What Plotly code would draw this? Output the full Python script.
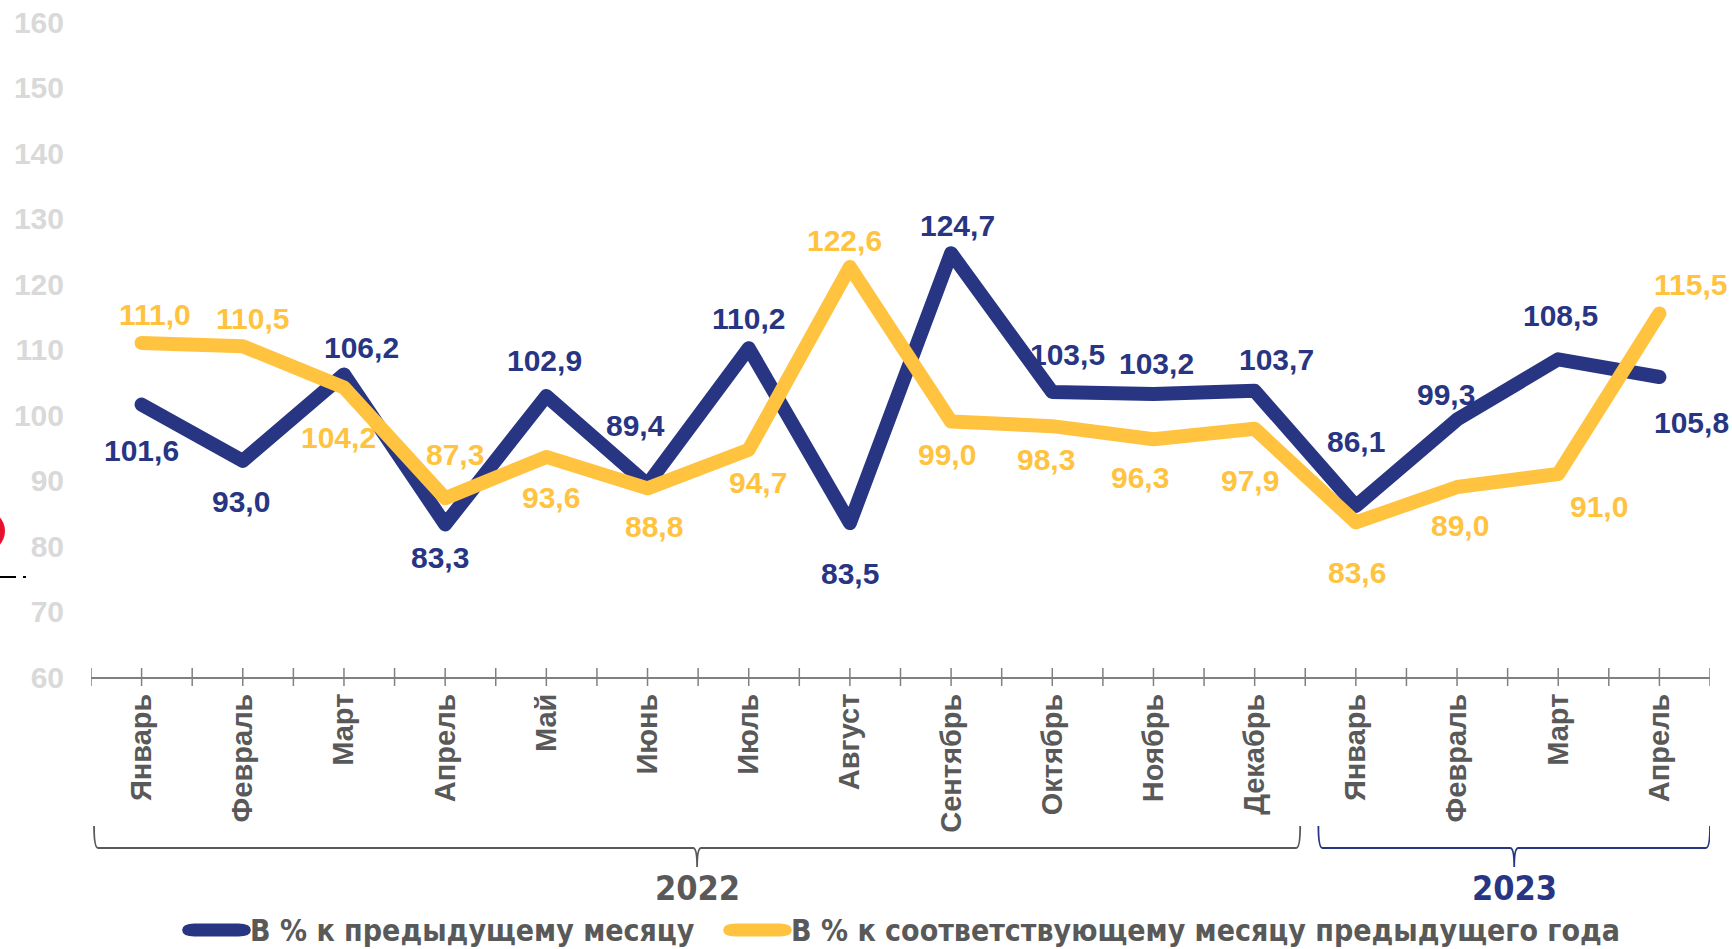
import plotly.graph_objects as go

months = ["Январь", "Февраль", "Март", "Апрель", "Май", "Июнь", "Июль", "Август",
          "Сентябрь", "Октябрь", "Ноябрь", "Декабрь",
          "Январь", "Февраль", "Март", "Апрель"]
mom = [101.6, 93.0, 106.2, 83.3, 102.9, 89.4, 110.2, 83.5, 124.7, 103.5, 103.2, 103.7,
       86.1, 99.3, 108.5, 105.8]
yoy = [111.0, 110.5, 104.2, 87.3, 93.6, 88.8, 94.7, 122.6, 99.0, 98.3, 96.3, 97.9,
       83.6, 89.0, 91.0, 115.5]
series_names = ["В % к предыдущему месяцу", "В % к соответствующему месяцу предыдущего года"]
years = ["2022", "2023"]
year_counts = [12, 4]
y_ticks = [60, 70, 80, 90, 100, 110, 120, 130, 140, 150, 160]

# label offsets in pixels (style only)
mom_dx = [0, -2, 18, -5, -2, -12, 0, 0, 6, 15, 3, 22, 0, -11, 2, 32]
mom_dy = [46, 41, -27, 33, -36, -59, -30, 50, -28, -38, -31, -31, -65, -25, -44, 45]
yoy_dx = [13, 10, -5, 10, 5, 6, 9, -5, -4, -6, -13, -5, 1, 3, 41, 31]
yoy_dy = [-28, -28, 50, -44, 41, 38, 33, -26, 33, 33, 38, 52, 50, 38, 33, -29]

NAVY = "#283583"
GOLD = "#FFC33F"
GREY = "#595959"
ARIAL = "Liberation Sans, Arial, sans-serif"
NARROW = "Liberation Sans Narrow, Arial Narrow, DejaVu Sans Condensed, sans-serif"

W, H = 1732, 949
ML, MR, MT, MB = 91, 22, 22, 272
PW, PH = W - ML - MR, H - MT - MB

def px(xp):
    return (xp - ML) / PW

def py(yp):
    return (H - MB - yp) / PH

x = list(range(len(months)))
fig = go.Figure()
fig.add_trace(go.Scatter(x=x, y=mom, mode="lines", name=series_names[0],
                         line=dict(color=NAVY, width=14), showlegend=False,
                         hoverinfo="skip"))
fig.add_trace(go.Scatter(x=x, y=yoy, mode="lines", name=series_names[1],
                         line=dict(color=GOLD, width=14), showlegend=False,
                         hoverinfo="skip"))

ann = []
for i, v in enumerate(mom):
    ann.append(dict(x=i, y=v, xref="x", yref="y", text=f"{v:.1f}".replace(".", ","),
                    showarrow=False, xshift=mom_dx[i], yshift=-mom_dy[i],
                    xanchor="center", yanchor="middle",
                    font=dict(family=ARIAL, size=30, color=NAVY, weight="bold")))
for i, v in enumerate(yoy):
    ann.append(dict(x=i, y=v, xref="x", yref="y", text=f"{v:.1f}".replace(".", ","),
                    showarrow=False, xshift=yoy_dx[i], yshift=-yoy_dy[i],
                    xanchor="center", yanchor="middle",
                    font=dict(family=ARIAL, size=30, color=GOLD, weight="bold")))

shapes = []
# crossing ticks on the category axis
for k in range(2 * len(months) + 1):
    xv = -0.5 + k * 0.5
    shapes.append(dict(type="line", xref="x", yref="paper", x0=xv, x1=xv,
                       y0=py(668), y1=py(686), line=dict(color="#808080", width=1.5)))

# year brackets
start = 0
bracket_cols = [GREY, NAVY]
for j, (yr, n) in enumerate(zip(years, year_counts)):
    x0 = start - 0.5 + (0.03 if j == 0 else 0.13)
    x1 = start + n - 0.5 - (0.05 if j == 0 else 0.0)
    xc = (x0 + x1) / 2
    col = bracket_cols[j]
    yt, yb, ys = py(826), py(848), py(867)
    path = (f"M {x0},{yt} Q {x0},{yb} {x0+0.04},{yb} L {xc-0.04},{yb} "
            f"Q {xc},{yb} {xc},{ys} Q {xc},{yb} {xc+0.04},{yb} L {x1-0.04},{yb} "
            f"Q {x1},{yb} {x1},{yt}")
    shapes.append(dict(type="path", xref="x", yref="paper", path=path,
                       line=dict(color=col, width=1.8)))
    ann.append(dict(x=xc, y=py(888), xref="x", yref="paper", text=yr, showarrow=False,
                    xanchor="center", yanchor="middle",
                    font=dict(family=NARROW, size=34, color=col, weight="bold")))
    start += n

# manual legend: rounded line samples + texts
leg_cols = [NAVY, GOLD]
leg_x = [(188, 245), (729, 786)]
leg_y, r = 930, 6.5
for (a, b), col, name in zip(leg_x, leg_cols, series_names):
    path = (f"M {px(a + r)},{py(leg_y - r)} L {px(b - r)},{py(leg_y - r)} "
            f"Q {px(b + r * 0.9)},{py(leg_y - r)} {px(b + r * 0.9)},{py(leg_y)} "
            f"Q {px(b + r * 0.9)},{py(leg_y + r)} {px(b - r)},{py(leg_y + r)} "
            f"L {px(a + r)},{py(leg_y + r)} "
            f"Q {px(a - r * 0.9)},{py(leg_y + r)} {px(a - r * 0.9)},{py(leg_y)} "
            f"Q {px(a - r * 0.9)},{py(leg_y - r)} {px(a + r)},{py(leg_y - r)} Z")
    shapes.append(dict(type="path", xref="paper", yref="paper", path=path,
                       fillcolor=col, line=dict(width=0)))
    ann.append(dict(x=px(b + 3), y=py(leg_y), xref="paper", yref="paper", text=name,
                    xanchor="left", yanchor="middle", showarrow=False,
                    font=dict(family=NARROW, size=30, color=GREY, weight="bold")))

# stray slide fragments at the left edge
shapes.append(dict(type="circle", xref="paper", yref="paper",
                   x0=px(-38), x1=px(5), y0=py(552), y1=py(510),
                   fillcolor="#E8112D", line=dict(width=0)))
shapes.append(dict(type="line", xref="paper", yref="paper", x0=px(0), x1=px(16),
                   y0=py(577), y1=py(577), line=dict(color="black", width=2)))
shapes.append(dict(type="line", xref="paper", yref="paper", x0=px(23), x1=px(26),
                   y0=py(577), y1=py(577), line=dict(color="black", width=2)))

fig.update_layout(
    width=W, height=H, autosize=False,
    margin=dict(l=ML, r=MR, t=MT, b=MB, autoexpand=False),
    paper_bgcolor="white", plot_bgcolor="white",
    showlegend=False, hovermode=False,
    annotations=ann, shapes=shapes,
)
fig.update_xaxes(range=[-0.5, len(months) - 0.5], tickvals=x, ticktext=months,
                 tickangle=-90, showgrid=False, zeroline=False, automargin=False,
                 showline=True, linecolor="#808080", linewidth=2,
                 ticks="", ticklabelstandoff=3,
                 tickfont=dict(family=ARIAL, size=29, color=GREY, weight="bold"))
fig.update_yaxes(range=[60, 160], tickvals=y_ticks, showgrid=False, zeroline=False,
                 showline=False, ticks="", ticklabelstandoff=26, automargin=False,
                 tickfont=dict(family=ARIAL, size=30, color="#D9D9D9", weight="bold"))

post = ("document.body.style.margin='0';document.body.style.overflow='hidden';"
        "document.querySelectorAll('.scatterlayer .js-line').forEach(function(p){"
        "p.style.strokeLinejoin='round';p.style.strokeLinecap='round';});")
fig.write_html("out.html", config={"displayModeBar": False}, post_script=post)
